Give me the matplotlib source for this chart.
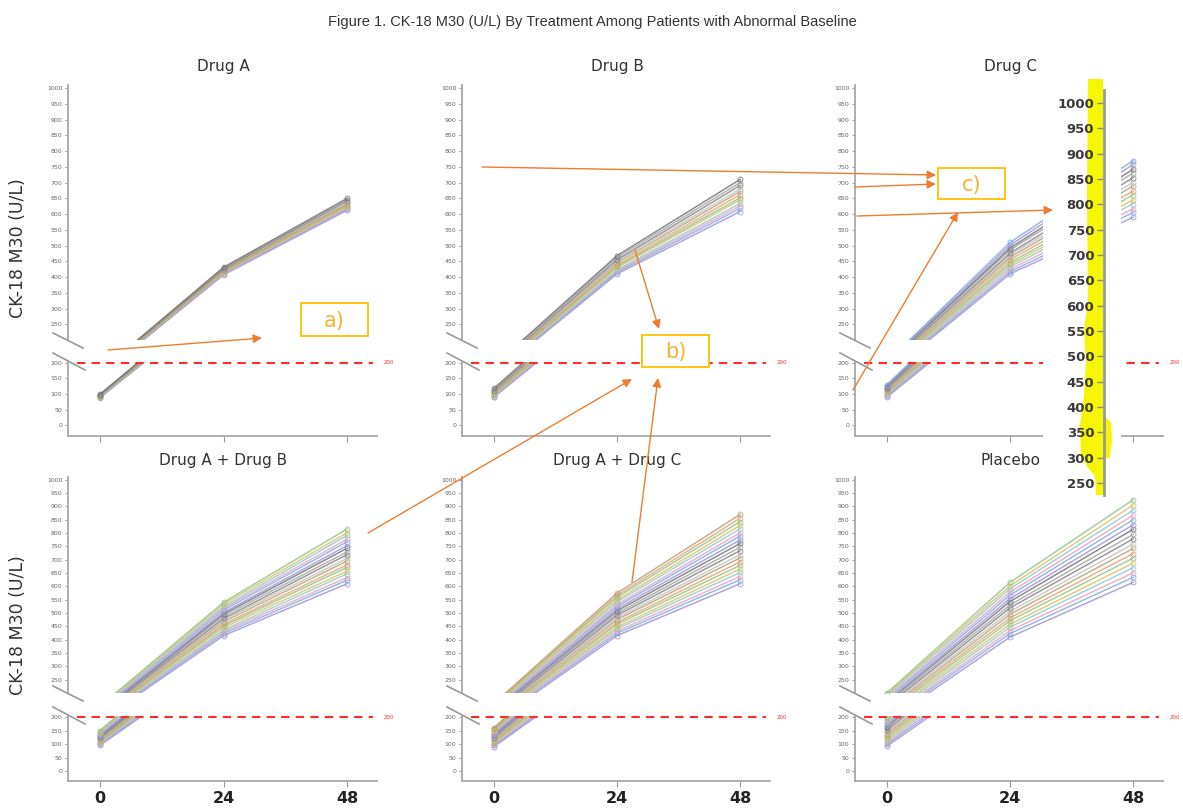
import matplotlib.pyplot as plt
from matplotlib.patches import Rectangle, Polygon, FancyArrowPatch
from matplotlib.lines import Line2D

# ---- data ----
hours = [0, 24, 48]

drug_a_h0 = [88, 89, 90, 91, 92, 92, 94, 95, 96, 97, 98, 99]
drug_a_h24 = [407, 410, 411, 414, 415, 418, 419, 421, 424, 425, 428, 431]
drug_a_h48 = [612, 616, 618, 622, 624, 628, 630, 634, 637, 642, 645, 650]

drug_b_h0 = [90, 92, 93, 96, 98, 101, 102, 105, 108, 110, 114, 118]
drug_b_h24 = [410, 415, 419, 423, 430, 434, 438, 445, 450, 455, 462, 468]
drug_b_h48 = [608, 618, 626, 634, 645, 652, 662, 672, 680, 691, 700, 710]

drug_c_h0 = [90, 94, 96, 99, 103, 105, 108, 112, 114, 117, 121, 124, 127, 130]
drug_c_h24 = [410, 417, 425, 433, 440, 446, 455, 463, 470, 476, 486, 492, 501, 510]
drug_c_h48 = [590, 605, 617, 633, 645, 661, 673, 689, 701, 716, 731, 743, 758, 770]

drug_ab_h0 = [95, 99, 101, 104, 108, 110, 113, 117, 119, 122, 126, 128, 131, 135, 138, 142, 146, 150]
drug_ab_h24 = [415, 423, 430, 436, 445, 452, 458, 467, 474, 480, 489, 496, 502, 511, 518, 524, 533, 540]
drug_ab_h48 = [610, 623, 633, 647, 657, 671, 681, 695, 705, 719, 729, 743, 753, 767, 777, 791, 801, 815]

drug_ac_h0 = [90, 95, 97, 102, 105, 109, 112, 117, 120, 124, 127, 132, 134, 139, 142, 147, 149, 154, 157, 160]
drug_ac_h24 = [415, 424, 432, 441, 448, 458, 465, 475, 482, 491, 499, 508, 516, 525, 532, 542, 549, 559, 566, 575]
drug_ac_h48 = [610, 625, 637, 652, 665, 679, 692, 707, 719, 734, 747, 761, 774, 789, 801, 816, 829, 843, 856, 870]

placebo_h0 = [92, 99, 105, 112, 118, 125, 131, 138, 144, 151, 157, 164, 170, 177, 183, 190, 195, 200]
placebo_h24 = [410, 423, 434, 447, 458, 471, 482, 495, 506, 519, 530, 543, 554, 567, 578, 591, 602, 615]
placebo_h48 = [615, 634, 651, 670, 687, 706, 723, 742, 759, 778, 795, 814, 831, 850, 867, 886, 905, 925]

panel_titles = ["Drug A", "Drug B", "Drug C", "Drug A + Drug B", "Drug A + Drug C", "Placebo"]
panel_data = [
    (drug_a_h0, drug_a_h24, drug_a_h48),
    (drug_b_h0, drug_b_h24, drug_b_h48),
    (drug_c_h0, drug_c_h24, drug_c_h48),
    (drug_ab_h0, drug_ab_h24, drug_ab_h48),
    (drug_ac_h0, drug_ac_h24, drug_ac_h48),
    (placebo_h0, placebo_h24, placebo_h48),
]
upper_ticks = list(range(250, 1001, 50))
lower_ticks = [0, 50, 100, 150, 200]
inset_ticks = list(range(250, 1001, 50))
threshold = 200

line_colors = ['#9a8fd6', '#7fa8e0', '#e6a0b8', '#8cc8d0', '#d8c060', '#90c088',
               '#e0a070', '#b0a070', '#c0c0c0', '#808080', '#a0a0a0', '#6f6f6f']

# ---- layout in pixels of the 1183x808 picture ----
W, H = 1183, 808


def fx(px):
    return px / W


def fy(py):
    return 1 - py / H


def rect(l, t, r, b):
    return [fx(l), fy(b), fx(r) - fx(l), fy(t) - fy(b)]


col_x = [(68, 377), (462, 770), (855, 1163)]
# upper top, upper bottom, lower top, lower bottom
row_y = [(85, 340, 362, 436), (477, 693, 716, 781)]
lower_lims = [(-35, 203), (-37, 204)]

fig = plt.figure(figsize=(W / 100, H / 100), dpi=100)
fig.text(fx(592), fy(22), "Figure 1. CK-18 M30 (U/L) By Treatment Among Patients with Abnormal Baseline",
         ha='center', va='center', fontsize=10.5, color='#333333', family='Liberation Sans')

spine_c = '#a8a8a8'
for i, (title, (h0, h24, h48)) in enumerate(zip(panel_titles, panel_data)):
    r, c = divmod(i, 3)
    left, right = col_x[c]
    ut, ub, lt, lb = row_y[r]
    ax_up = fig.add_axes(rect(left, ut, right, ub))
    ax_lo = fig.add_axes(rect(left, lt, right, lb))
    for j in range(len(h0)):
        ys = [h0[j], h24[j], h48[j]]
        col = line_colors[j % len(line_colors)]
        for ax in (ax_up, ax_lo):
            ax.plot(hours, ys, '-o', color=col, lw=1.1, ms=3.5, mfc='none', mew=0.7, alpha=0.8)
    ax_up.set_ylim(200, 1010)
    ax_lo.set_ylim(*lower_lims[r])
    ax_up.set_yticks(upper_ticks)
    ax_lo.set_yticks(lower_ticks)
    for ax in (ax_up, ax_lo):
        ax.set_xlim(-6.2, 53.8)
        for s in ('top', 'right'):
            ax.spines[s].set_visible(False)
        ax.spines['left'].set_color(spine_c)
        ax.spines['left'].set_linewidth(1.3)
        ax.spines['bottom'].set_color(spine_c)
        ax.spines['bottom'].set_linewidth(1.3)
        ax.tick_params(axis='y', labelsize=4.5, labelcolor='#666666', color='#999999',
                       length=2.5, width=0.7, pad=1.5)
        ax.patch.set_alpha(0)
    ax_up.spines['bottom'].set_visible(False)
    ax_up.set_xticks([])
    ax_lo.set_xticks(hours)
    ax_lo.tick_params(axis='x', color='#999999', length=4, width=0.8)
    if r == 0:
        ax_lo.set_xticklabels([])
    else:
        ax_lo.set_xticklabels([str(h) for h in hours], fontsize=11.5, fontweight='bold', color='#222222')
        ax_lo.tick_params(axis='x', pad=3)
    ax_lo.hlines(threshold, -4.5, 53, colors='#ff2a2a', linestyles=(0, (4, 3)), lw=1.5, clip_on=False, zorder=5)
    ax_lo.text(55, threshold, str(threshold), fontsize=4, color='#ff3030', va='center', clip_on=False)

    # panel title
    fig.text(fx((left + right) / 2 + 1), fy(67 if r == 0 else 461), title, ha='center', va='center',
             fontsize=11, color='#333333')
    # axis break marks
    for (x0, y0, x1, y1) in [(left - 15, ub - 7, left + 15, ub + 8), (left - 15, lt - 9, left + 17, lt + 8)]:
        fig.add_artist(Line2D([fx(x0), fx(x1)], [fy(y0), fy(y1)], color='#999999', lw=1.2))

for yc in [248, 625]:
    fig.text(fx(18), fy(yc), "CK-18 M30 (U/L)", rotation=90, ha='center', va='center',
             fontsize=12.5, color='#333333')

# ---- magnified axis overlay on Drug C ----
fig.add_artist(Rectangle((fx(1043), fy(497)), fx(1121) - fx(1043), fy(73) - fy(497),
                         transform=fig.transFigure, facecolor='white', edgecolor='none', zorder=2))
yellow = [(1088, 79), (1103, 79), (1103, 415), (1111, 422), (1112, 440), (1110, 457), (1104, 460),
          (1104, 495), (1096, 495), (1095, 476), (1088, 468), (1081, 455), (1080, 425), (1084, 395),
          (1086, 360), (1084, 330), (1088, 300), (1087, 200)]
fig.add_artist(Polygon([(fx(x), fy(y)) for x, y in yellow], closed=True, transform=fig.transFigure,
                       facecolor='#f6f600', edgecolor='none', zorder=3))
ax_in = fig.add_axes(rect(1104, 90, 1121, 495), zorder=5)
ax_in.patch.set_alpha(0)
ax_in.set_ylim(226, 1026)
ax_in.set_yticks(inset_ticks)
ax_in.set_xticks([])
for s in ('top', 'right', 'bottom'):
    ax_in.spines[s].set_visible(False)
ax_in.spines['left'].set_color('#999999')
ax_in.spines['left'].set_linewidth(2)
ax_in.tick_params(axis='y', labelsize=9.5, labelcolor='#3a3a3a', color='#888888', length=5, width=1, pad=2)
for lab in ax_in.get_yticklabels():
    lab.set_fontweight('bold')

# ---- callout boxes and arrows ----
orange = '#ed7d31'
boxes = [("a)", 301, 303, 368, 336), ("b)", 642, 335, 709, 367), ("c)", 938, 168, 1005, 199)]
for label, l, t, rr, b in boxes:
    fig.add_artist(Rectangle((fx(l), fy(b)), fx(rr) - fx(l), fy(t) - fy(b), transform=fig.transFigure,
                             facecolor='white', edgecolor='#ffc000', lw=1.3, zorder=6))
    fig.text(fx((l + rr) / 2), fy((t + b) / 2 + 1), label, ha='center', va='center', fontsize=15,
             color='#f5b530', zorder=7)

arrows = [((108, 350), (262, 338)),
          ((635, 250), (659, 329)),
          ((368, 533), (632, 379)),
          ((632, 582), (658, 378)),
          ((482, 167), (936, 175)),
          ((855, 187), (936, 184)),
          ((857, 216), (1053, 210)),
          ((853, 390), (958, 212))]
for (x0, y0), (x1, y1) in arrows:
    fig.add_artist(FancyArrowPatch((fx(x0), fy(y0)), (fx(x1), fy(y1)), transform=fig.transFigure,
                                   arrowstyle='-|>', mutation_scale=13, color=orange, lw=1,
                                   shrinkA=0, shrinkB=0, zorder=8))

fig.savefig('out.png', dpi=100)
